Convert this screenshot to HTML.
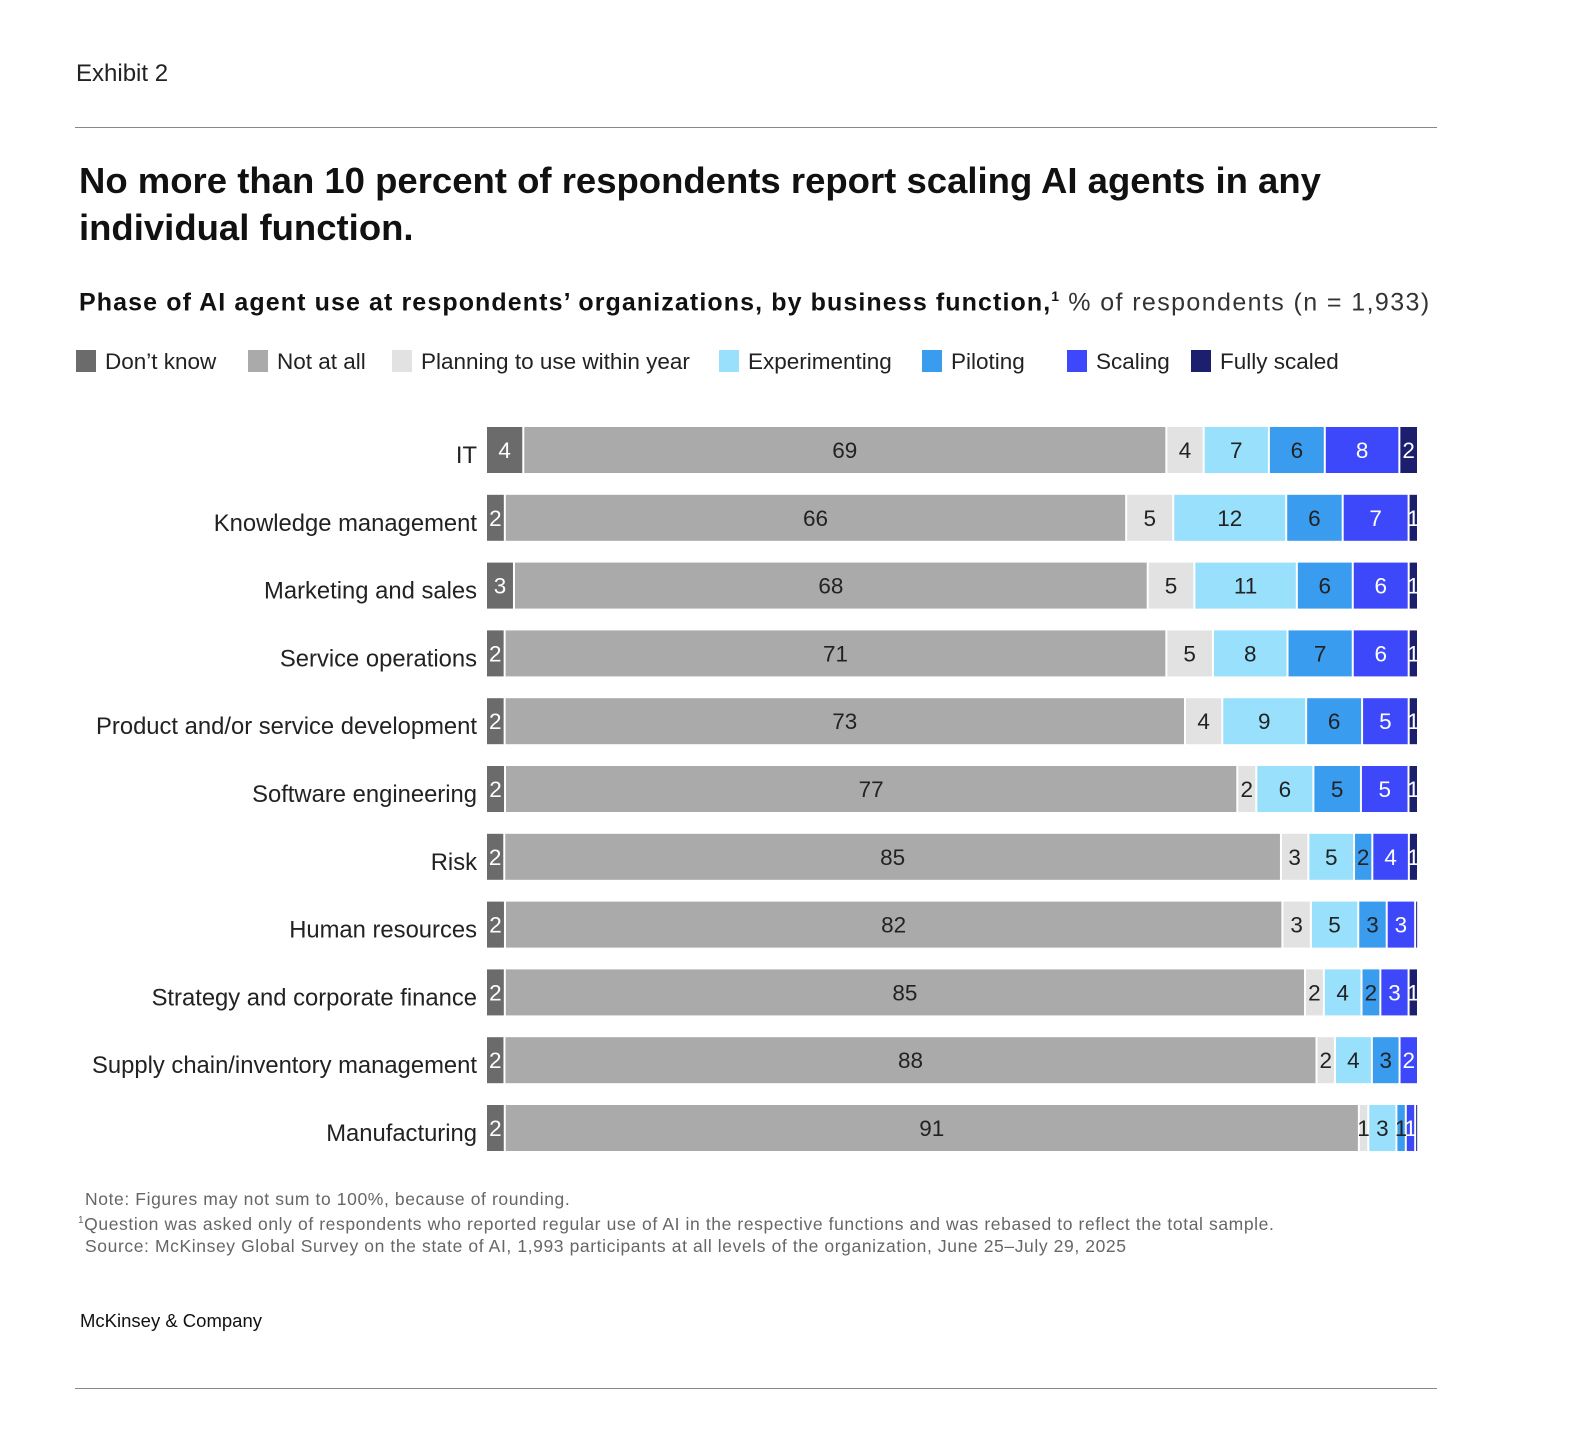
<!DOCTYPE html>
<html><head><meta charset="utf-8">
<style>
body{margin:0;background:#fff;font-family:"Liberation Sans",sans-serif;color:#222;}
#wrap{position:relative;width:1570px;height:1456px;overflow:hidden;}
.abs{position:absolute;}
</style></head>
<body>
<div id="wrap">
<div class="abs" style="left:76px;top:60px;font-size:24px;color:#222;">Exhibit 2</div>
<div class="abs" style="left:75px;top:127px;width:1362px;height:1px;background:#888;"></div>
<div class="abs" style="left:79px;top:157px;font-size:36.5px;font-weight:bold;line-height:47px;color:#111;width:1360px;">No more than 10 percent of respondents report scaling AI agents in any individual function.</div>
<div class="abs" style="left:79px;top:288px;font-size:25px;color:#111;white-space:nowrap;letter-spacing:1.1px"><b>Phase of AI agent use at respondents’ organizations, by business function,</b><sup style="font-size:14px;font-weight:bold">1</sup> <span style="color:#333;letter-spacing:1.4px">% of respondents (n = 1,933)</span></div>
<svg class="abs" style="left:0;top:0" width="1570" height="1456" id="chart"></svg>
<div class="abs" style="left:85px;top:1188px;font-size:17.5px;color:#666;line-height:22px;white-space:nowrap;letter-spacing:0.6px">Note: Figures may not sum to 100%, because of rounding.<br><span style="margin-left:-7px"><sup style="font-size:10px">1</sup>Question was asked only of respondents who reported regular use of AI in the respective functions and was rebased to reflect the total sample.</span><br>Source: McKinsey Global Survey on the state of AI, 1,993 participants at all levels of the organization, June 25–July 29, 2025</div>
<div class="abs" style="left:80px;top:1310px;font-size:18.5px;color:#111;">McKinsey &amp; Company</div>
<div class="abs" style="left:75px;top:1388px;width:1362px;height:1px;background:#888;"></div>
</div>
<script>
const categories=["IT","Knowledge management","Marketing and sales","Service operations","Product and/or service development","Software engineering","Risk","Human resources","Strategy and corporate finance","Supply chain/inventory management","Manufacturing"];
const seriesNames=["Don’t know","Not at all","Planning to use within year","Experimenting","Piloting","Scaling","Fully scaled"];
const dontKnow=[4,2,3,2,2,2,2,2,2,2,2];
const notAtAll=[69,66,68,71,73,77,85,82,85,88,91];
const planning=[4,5,5,5,4,2,3,3,2,2,1];
const experimenting=[7,12,11,8,9,6,5,5,4,4,3];
const piloting=[6,6,6,7,6,5,2,3,2,3,1];
const scaling=[8,7,6,6,5,5,4,3,3,2,1];
const fullyScaled=[2,1,1,1,1,1,1,0.3,1,0,0.3];
const series=[dontKnow,notAtAll,planning,experimenting,piloting,scaling,fullyScaled];
const colors=["#6b6b6b","#aaaaaa","#e2e2e2","#99e0fc","#3a9cee","#3e48fb","#1b1f6e"];
const textCol=["#fff","#222","#222","#222","#222","#fff","#fff"];
const ns="http://www.w3.org/2000/svg";
const svg=document.getElementById('chart');
const X0=487,W=932,Y0=427,PITCH=67.8,BH=46;
function yPos(i){return Y0+i*PITCH;}
function mk(t,a){const e=document.createElementNS(ns,t);for(const k in a)e.setAttribute(k,a[k]);svg.appendChild(e);return e;}
const legX=[76,248,392,719,922,1067,1191];
seriesNames.forEach((n,s)=>{
  const r=mk('rect',{x:legX[s],y:350,width:20,height:22,fill:colors[s]});
  
  
  const t=mk('text',{x:legX[s]+29,y:369,'font-size':22.5,fill:'#222','font-family':'Liberation Sans, sans-serif'});
  t.textContent=n;
  
  
});
categories.forEach((c,i)=>{
  const y=yPos(i);
  const lab=mk('text',{x:477,y:y+BH/2+13,'text-anchor':'end','font-size':23.8,fill:'#222','font-family':'Liberation Sans, sans-serif'});
  lab.textContent=c;
  
  
  let tot=0;series.forEach(s=>tot+=s[i]);
  let acc=0;
  series.forEach((s,k)=>{
    const v=s[i];if(v<=0)return;
    const x=X0+acc/tot*W,w=v/tot*W;acc+=v;
    const r=mk('rect',{x:x,y:y,width:Math.max(w-2,1),height:BH,fill:colors[k]});
    
    
    if(v>=0.5){
      const t=mk('text',{x:x+w/2-1,y:y+BH/2+8,'text-anchor':'middle','font-size':22.5,fill:textCol[k],'font-family':'Liberation Sans, sans-serif'});
      t.textContent=Math.round(v);
      
      
    }
  });
});
</script>
</body></html>
